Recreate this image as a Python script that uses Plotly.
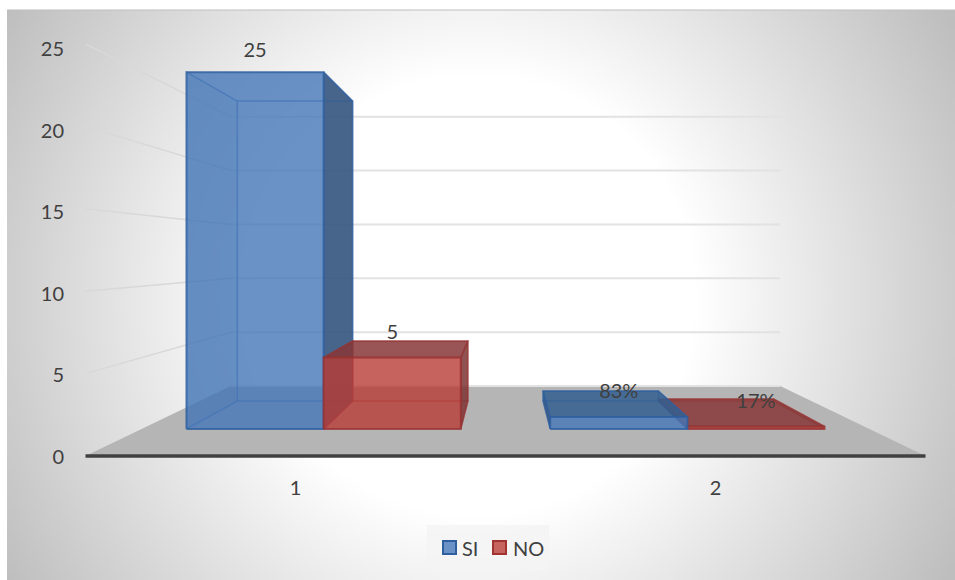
import numpy as np
import plotly.graph_objects as go

# Chart data
categories = [1, 2]
series_names = ["SI", "NO"]
si_values = [25, 0.83]
no_values = [5, 0.17]
si_labels = ["25", "83%"]
no_labels = ["5", "17%"]
value_ticks = [0, 5, 10, 15, 20, 25]

# Canvas and axis scale (pixels per unit)
W, H = 955, 580
PX_X, PX_Y = 420.0, 16.48
X0_PX, Y0_PX = 295.5, 456.0
x_range = [1 - X0_PX / PX_X, 1 + (W - X0_PX) / PX_X]
y_range = [(Y0_PX - H) / PX_Y, Y0_PX / PX_Y]
# The value labels run on their own slightly tighter scale, beside the box
LABEL_PX_Y, LABEL_Y0_PX = 16.32, 457.0
y2_range = [(LABEL_Y0_PX - H) / LABEL_PX_Y, LABEL_Y0_PX / LABEL_PX_Y]

# Perspective of the 3D box: everything converges toward a vanishing point
VP_X, VP_Y = 1.5, 12.26
S_WALL, S_BAR_FRONT, S_BAR_BACK = 0.654, 0.866, 0.728
AXIS_L, AXIS_R = 0.5, 2.5
BAR_W = 0.377


def proj(x, v, s):
    return VP_X + (x - VP_X) * s, VP_Y + (v - VP_Y) * s


fig = go.Figure()


def poly(points, fill=None, line=None, width=1.5):
    xs = [p[0] for p in points] + [points[0][0]]
    ys = [p[1] for p in points] + [points[0][1]]
    fig.add_trace(go.Scatter(
        x=xs, y=ys, mode="lines", showlegend=False, hoverinfo="skip",
        fill="toself" if fill else None, fillcolor=fill,
        line=dict(color=line or "rgba(0,0,0,0)", width=width if line else 0),
    ))


def segment(a, b, color, width):
    fig.add_trace(go.Scatter(
        x=[a[0], b[0]], y=[a[1], b[1]], mode="lines", showlegend=False,
        hoverinfo="skip", line=dict(color=color, width=width),
    ))


# Radial backdrop: white centre fading to grey toward the corners
NX, NY = 120, 72
dx, dy = (W - 7) / NX, (H - 10) / NY
gx_px = 7 + dx / 2 + dx * np.arange(NX)
gy_px = 10 + dy / 2 + dy * np.arange(NY)
dist = np.hypot(*np.meshgrid(gx_px - 475, gy_px - 295))
shade = 255 - 0.198 * np.clip(dist - 220, 0, None)
fig.add_trace(go.Heatmap(
    x=(gx_px - X0_PX) / PX_X + 1, y=(Y0_PX - gy_px) / PX_Y, z=shade,
    zmin=190, zmax=255, zsmooth="best", showscale=False, hoverinfo="skip",
    colorscale=[[0, "rgb(190,190,190)"], [1, "rgb(255,255,255)"]],
))

# Floor
poly([proj(AXIS_L, 0, 1), proj(AXIS_L, 0, S_WALL), proj(AXIS_R, 0, S_WALL), proj(AXIS_R, 0, 1)],
     fill="rgb(181,181,181)")

# Gridlines on the back and side walls
for t in value_ticks:
    segment(proj(AXIS_L, t, S_WALL), proj(AXIS_R, t, S_WALL), "rgb(226,226,226)", 2)
    if t:
        segment(proj(AXIS_L, t, 1), proj(AXIS_L, t, S_WALL), "rgb(216,216,216)", 1.5)

# Front edge of the floor
segment(proj(AXIS_L, 0, 1), proj(AXIS_R, 0, 1), "rgb(64,64,64)", 3.5)

PALETTE = {
    "SI": dict(front="rgba(69,119,184,0.8)", side="rgba(55,88,128,0.92)", top="rgba(50,95,145,0.85)",
               edge="rgba(47,95,159,0.75)", ghost="rgba(55,95,150,0.1)", inner="rgba(52,100,165,0.4)"),
    "NO": dict(front="rgba(185,60,55,0.8)", side="rgba(125,50,50,0.85)", top="rgba(135,55,55,0.85)",
               edge="rgba(150,50,50,0.7)", ghost="rgba(130,50,50,0.1)", inner="rgba(160,55,55,0.35)"),
}


def draw_bar(x0, x1, v, pal):
    f, b = S_BAR_FRONT, S_BAR_BACK
    left_seen = x0 >= VP_X
    right_seen = x1 <= VP_X
    top_seen = v < VP_Y
    # Bottom, back and any faces turned away from the viewer
    poly([proj(x0, 0, f), proj(x1, 0, f), proj(x1, 0, b), proj(x0, 0, b)], line=pal["inner"])
    poly([proj(x0, 0, b), proj(x1, 0, b), proj(x1, v, b), proj(x0, v, b)], line=pal["inner"])
    left = [proj(x0, 0, f), proj(x0, 0, b), proj(x0, v, b), proj(x0, v, f)]
    right = [proj(x1, 0, f), proj(x1, 0, b), proj(x1, v, b), proj(x1, v, f)]
    top = [proj(x0, v, f), proj(x1, v, f), proj(x1, v, b), proj(x0, v, b)]
    poly(left, fill=pal["side"] if left_seen else pal["ghost"], line=pal["edge"] if left_seen else pal["inner"])
    poly(right, fill=pal["side"] if right_seen else pal["ghost"], line=pal["edge"] if right_seen else pal["inner"])
    poly(top, fill=pal["top"] if top_seen else None, line=pal["edge"] if top_seen else pal["inner"])
    poly([proj(x0, 0, f), proj(x1, 0, f), proj(x1, v, f), proj(x0, v, f)], fill=pal["front"], line=pal["edge"], width=2)


# Bars further from the centre of view are painted first
bars = []
for i, cat in enumerate(categories):
    bars.append((cat - BAR_W, cat, si_values[i], "SI", si_labels[i]))
    bars.append((cat, cat + BAR_W, no_values[i], "NO", no_labels[i]))
bars.sort(key=lambda b: -abs((b[0] + b[1]) / 2 - VP_X))
for x0, x1, v, name, _ in bars:
    draw_bar(x0, x1, v, PALETTE[name])

# Data labels sit just above the front top edge of each bar, a little closer on taller bars
for x0, x1, v, name, label in bars:
    lx, ly = proj((x0 + x1) / 2, v, S_BAR_FRONT)
    fig.add_trace(go.Scatter(
        x=[lx], y=[ly + 1.45 - 0.008 * v], mode="text", text=[label], showlegend=False, hoverinfo="skip",
        textposition="middle center", textfont=dict(size=20, color="#404040"),
    ))

# Empty trace that keeps the value-label axis on the page
fig.add_trace(go.Scatter(x=[None], y=[None], yaxis="y2", showlegend=False, hoverinfo="skip"))


def px(x):
    return x / W


def py(y):
    return (H - y) / H


# Legend panel with its two keys
shapes = [
    dict(type="line", xref="paper", yref="paper", x0=px(7), x1=1, y0=py(10), y1=py(10),
         line=dict(color="rgb(190,190,190)", width=1)),
    dict(type="rect", xref="paper", yref="paper", x0=px(427), x1=px(549), y0=py(570), y1=py(525),
         fillcolor="rgba(244,244,244,0.8)", line=dict(width=0)),
]
annotations = []
for name, key_x, text_x, fill, edge in [
    ("SI", 443, 462, "rgb(106,146,198)", "rgb(47,95,159)"),
    ("NO", 493, 513, "rgb(199,99,95)", "rgb(160,50,50)"),
]:
    shapes.append(dict(type="rect", xref="paper", yref="paper", x0=px(key_x), x1=px(key_x + 13),
                       y0=py(554), y1=py(541), fillcolor=fill, line=dict(color=edge, width=2)))
    annotations.append(dict(xref="paper", yref="paper", x=px(text_x), y=py(547.5), text=name, showarrow=False,
                            xanchor="left", yanchor="middle", font=dict(size=20, color="#404040"), xshift=-2))

fig.update_layout(
    width=W, height=H, margin=dict(l=0, r=0, t=0, b=0),
    paper_bgcolor="white", plot_bgcolor="rgba(0,0,0,0)",
    font=dict(family="Lato", size=20, color="#404040"),
    xaxis=dict(range=x_range, showgrid=False, zeroline=False, showline=False, ticks="",
               tickmode="array", tickvals=categories, ticktext=[str(c) for c in categories],
               anchor="free", position=py(473.5)),
    yaxis=dict(range=y_range, showgrid=False, zeroline=False, showline=False, ticks="", showticklabels=False),
    yaxis2=dict(range=y2_range, overlaying="y", showgrid=False, zeroline=False, showline=False, ticks="",
                tickmode="array", tickvals=value_ticks, ticktext=[str(t) for t in value_ticks],
                anchor="free", position=px(64), side="left"),
    shapes=shapes, annotations=annotations, showlegend=False,
)

fig.write_html("out.html")
